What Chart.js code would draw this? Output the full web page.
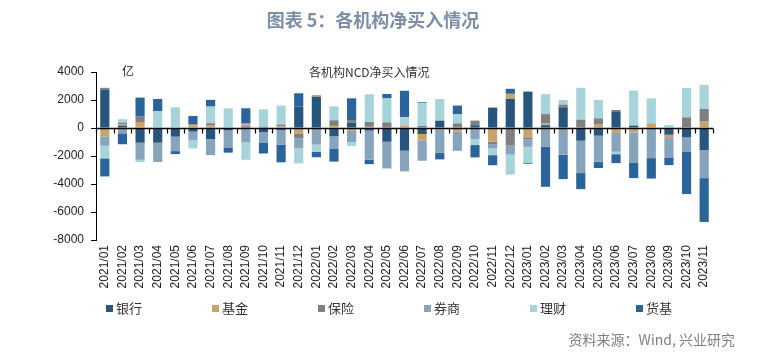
<!DOCTYPE html>
<html>
<head>
<meta charset="utf-8">
<script src="https://cdn.jsdelivr.net/npm/chart.js@4.4.1/dist/chart.umd.min.js"></script>
<style>
  html, body { margin: 0; padding: 0; background: #fff; }
  #wrap { position: relative; width: 764px; height: 356px; overflow: hidden; font-family: "Noto Sans CJK SC", "Liberation Sans", sans-serif; }
  #c { position: absolute; left: 0; top: 0; }
  .txt { position: absolute; white-space: nowrap; line-height: 1; }
  #title { left: 0; width: 746px; top: 10px; text-align: center; font-size: 18px; font-weight: bold; color: #7d8ea7; }
  #sub { left: 309px; top: 66px; font-size: 12px; color: #333; }
  #unit { left: 122px; top: 65px; font-size: 12px; color: #222; }
  #legend { position: absolute; left: 0; top: 301px; width: 764px; height: 16px; }
  .li { position: absolute; top: 0; font-size: 13px; color: #333; line-height: 14px; }
  .li span.box { display: inline-block; width: 7px; height: 7px; margin-right: 3px; vertical-align: 1px; }
  #src { right: 29px; top: 332px; font-size: 14px; color: #7f7f7f; }
</style>
</head>
<body>
<div id="wrap">
  <canvas id="c" width="764" height="356"></canvas>
  <div class="txt" id="title">图表 5：各机构净买入情况</div>
  <div class="txt" id="sub">各机构NCD净买入情况</div>
  <div class="txt" id="unit">亿</div>
  <div id="legend"></div>
  <div class="txt" id="src">资料来源：Wind, 兴业研究</div>
</div>
<script>
const months = ['2021/01','2021/02','2021/03','2021/04','2021/05','2021/06','2021/07','2021/08','2021/09','2021/10','2021/11','2021/12',
  '2022/01','2022/02','2022/03','2022/04','2022/05','2022/06','2022/07','2022/08','2022/09','2022/10','2022/11','2022/12',
  '2023/01','2023/02','2023/03','2023/04','2023/05','2023/06','2023/07','2023/08','2023/09','2023/10','2023/11'];

const seriesNames = ['银行','基金','保险','券商','理财','货基'];
const seriesColors = ['#28557d','#c8a36c','#808080','#87a4bd','#a7d4da','#2a649a'];

const bank = [2750,170,-1050,-1050,-620,-260,-790,-170,100,-310,-140,1530,2240,-600,380,-190,-980,-1620,-430,525,0,200,1460,2080,2600,200,1480,-910,-550,1190,170,0,-480,-670,-1580];
const fund = [-600,120,430,0,0,200,170,0,150,0,120,-380,120,150,-200,80,0,170,-480,-120,-270,0,-980,360,-670,120,0,0,240,-360,-310,330,-240,0,450];
const insurance = [120,100,380,0,0,60,170,0,80,100,120,-360,0,400,190,350,400,0,150,0,330,330,-170,-1260,-120,670,190,600,450,100,0,0,0,760,910];
const broker = [-670,-380,-1220,-1380,-1030,-600,-1150,-1260,-1030,-720,-1050,-720,-1190,-900,-800,-2080,-1910,-1480,-1430,-1670,-1360,-790,-310,-640,-550,-1340,-1910,-2310,-1860,-1340,-2150,-2150,-1380,-1000,-2000];
const wealth = [-900,240,-170,1190,1480,-600,1190,1400,-1240,1240,1360,-1070,-500,1000,-290,1980,1720,600,1650,1550,670,-430,-480,-1430,-1170,1430,330,2270,1310,-170,2500,1790,210,2100,1720];
const mmf = [-1290,-780,1360,880,-215,600,480,-330,1080,-790,-1260,950,-400,-900,1550,-310,310,1890,60,-450,600,-880,-720,360,-60,-2860,-1740,-1150,-450,-640,-1120,-1460,-550,-3050,-3130];

const yTicks = [4000, 2000, 0, -2000, -4000, -6000, -8000];

const seriesValues = [bank, fund, insurance, broker, wealth, mmf];

const zeroAxis = {
  id: 'zeroAxis',
  afterDatasetsDraw(chart) {
    const {ctx, chartArea: a, scales: {x, y}} = chart;
    const y0 = Math.round(y.getPixelForValue(0)) + 0.5;
    ctx.save();
    ctx.strokeStyle = '#000';
    ctx.lineWidth = 1.3;
    ctx.beginPath(); ctx.moveTo(a.left, y0); ctx.lineTo(a.right, y0); ctx.stroke();
    ctx.lineWidth = 1.2;
    const n = x.ticks.length;
    for (let i = 0; i <= n; i++) {
      let px = i === 0 ? a.left : (i === n ? a.right : (x.getPixelForTick(i - 1) + x.getPixelForTick(i)) / 2);
      px = Math.round(px) + 0.5;
      ctx.beginPath(); ctx.moveTo(px, y0); ctx.lineTo(px, y0 + 5); ctx.stroke();
    }
    ctx.restore();
  }
};

const chart = new Chart(document.getElementById('c'), {
  type: 'bar',
  data: {
    labels: months,
    datasets: seriesNames.map((name, i) => ({
      label: name,
      data: seriesValues[i],
      backgroundColor: seriesColors[i],
      borderWidth: 0,
      barPercentage: 0.52,
      categoryPercentage: 1.0
    }))
  },
  options: {
    responsive: false,
    animation: false,
    devicePixelRatio: 1,
    layout: { padding: { left: 0, right: 51, top: 72, bottom: 56 } },
    plugins: { legend: { display: false }, title: { display: false }, tooltip: { enabled: false } },
    scales: {
      x: {
        stacked: true,
        grid: { display: false, drawTicks: false },
        border: { display: false },
        ticks: {
          autoSkip: false, minRotation: 90, maxRotation: 90, padding: 5,
          color: '#222', font: { family: 'Liberation Sans', size: 12 }
        },
        afterFit(s) { s.height = 60; }
      },
      y: {
        stacked: true,
        min: -8000, max: 4000,
        afterBuildTicks(s) { s.ticks = yTicks.map(v => ({ value: v })); },
        grid: { drawOnChartArea: false, drawTicks: true, tickLength: 5, tickColor: '#000', color: '#000' },
        border: { display: true, color: '#000', width: 1 },
        ticks: {
          padding: 7, color: '#222', font: { family: 'Liberation Sans', size: 12 },
          callback: v => String(v)
        },
        afterFit(s) { s.width = 96; }
      }
    }
  },
  plugins: [zeroAxis]
});

// legend built from the chart's own legend items
const items = chart.options.plugins.legend.labels.generateLabels(chart);
const lg = document.getElementById('legend');
items.forEach((it, i) => {
  const d = document.createElement('div');
  d.className = 'li';
  d.style.left = (106 + i * 106) + 'px';
  d.innerHTML = '<span class="box" style="background:' + it.fillStyle + '"></span>' + it.text;
  lg.appendChild(d);
});
</script>
</body>
</html>
